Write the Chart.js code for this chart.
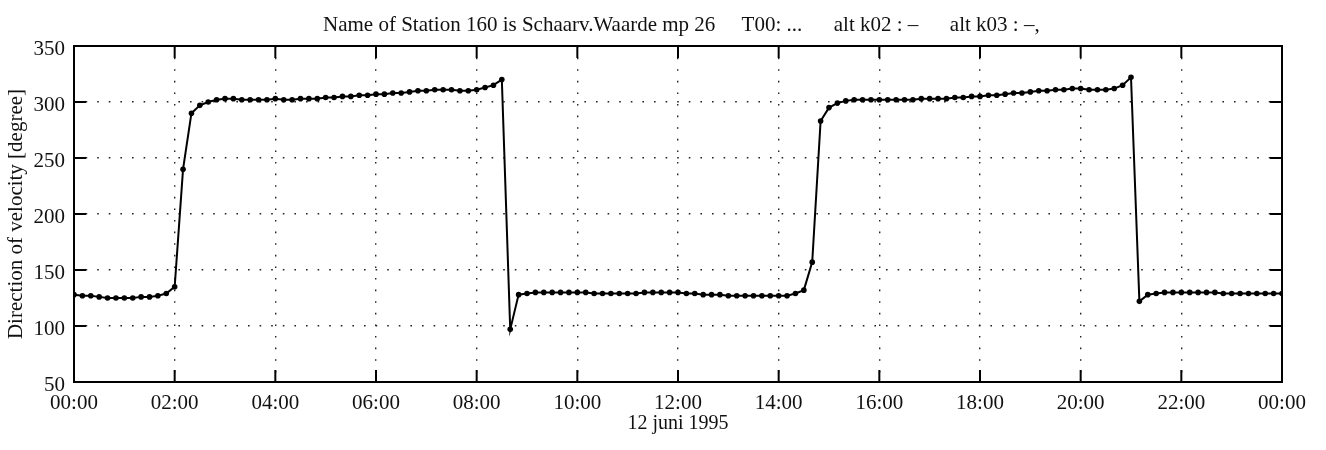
<!DOCTYPE html>
<html>
<head>
<meta charset="utf-8">
<script src="https://cdn.jsdelivr.net/npm/chart.js@4/dist/chart.umd.min.js"></script>
<style>
  html, body { margin: 0; padding: 0; background: #fff; }
  #wrap { width: 1326px; height: 450px; }
</style>
</head>
<body>
<div id="wrap"><canvas id="chart" width="1326" height="450"></canvas></div>
<script>
// Station 160, Schaarv.Waarde mp 26 — current direction, 12 juni 1995
const titleText = 'Name of Station 160 is Schaarv.Waarde mp 26     T00: ...      alt k02 : \u2013      alt k03 : \u2013,';
const xAxisTitle = '12 juni 1995';
const yAxisTitle = 'Direction of velocity [degree]';

// one sample every 10 minutes, 00:00 .. 24:00
const sampleStepMinutes = 10;
const direction = [
  128, 127, 127, 126, 125, 125, 125, 125, 126, 126, 127, 129,   // 00:00 - 01:50
  135, 240, 290, 297, 300, 302, 303, 303, 302, 302, 302, 302,   // 02:00 - 03:50
  303, 302, 302, 303, 303, 303, 304, 304, 305, 305, 306, 306,   // 04:00 - 05:50
  307, 307, 308, 308, 309, 310, 310, 311, 311, 311, 310, 310,   // 06:00 - 07:50
  311, 313, 315, 320,  97, 128, 129, 130, 130, 130, 130, 130,   // 08:00 - 09:50
  130, 130, 129, 129, 129, 129, 129, 129, 130, 130, 130, 130,   // 10:00 - 11:50
  130, 129, 129, 128, 128, 128, 127, 127, 127, 127, 127, 127,   // 12:00 - 13:50
  127, 127, 129, 132, 157, 283, 295, 299, 301, 302, 302, 302,   // 14:00 - 15:50
  302, 302, 302, 302, 302, 303, 303, 303, 303, 304, 304, 305,   // 16:00 - 17:50
  305, 306, 306, 307, 308, 308, 309, 310, 310, 311, 311, 312,   // 18:00 - 19:50
  312, 311, 311, 311, 312, 315, 322, 122, 128, 129, 130, 130,   // 20:00 - 21:50
  130, 130, 130, 130, 130, 129, 129, 129, 129, 129, 129, 129,   // 22:00 - 23:50
  129                                                           // 24:00
];

const xRangeMinutes = [0, 1440];
const xTickStepMinutes = 120;
const yRange = [50, 350];
const yTickStep = 50;

const points = direction.map((v, i) => ({ x: i * sampleStepMinutes, y: v }));

function clockLabel(minutes) {
  const m = Math.round(minutes) % 1440;
  const hh = String(Math.floor(m / 60)).padStart(2, '0');
  const mm = String(m % 60).padStart(2, '0');
  return hh + ':' + mm;
}

const SERIF = '"Liberation Serif", "Times New Roman", serif';

// solid frame round the plot plus short inward tick marks on all four sides
const frameTicks = {
  id: 'frameTicks',
  afterDatasetsDraw(chart) {
    const { ctx, chartArea: a, scales: { x, y } } = chart;
    ctx.save();
    ctx.strokeStyle = '#000';
    ctx.lineWidth = 2;
    ctx.strokeRect(a.left, a.top, a.right - a.left, a.bottom - a.top);
    const len = 12;
    ctx.beginPath();
    x.ticks.forEach(t => {
      const px = x.getPixelForValue(t.value);
      ctx.moveTo(px, a.bottom); ctx.lineTo(px, a.bottom - len);
      ctx.moveTo(px, a.top);    ctx.lineTo(px, a.top + len);
    });
    y.ticks.forEach(t => {
      const py = y.getPixelForValue(t.value);
      ctx.moveTo(a.left, py);  ctx.lineTo(a.left + len, py);
      ctx.moveTo(a.right, py); ctx.lineTo(a.right - len, py);
    });
    ctx.stroke();
    ctx.restore();
  }
};

// heading line above the plot
const heading = {
  id: 'heading',
  afterDraw(chart) {
    const { ctx } = chart;
    ctx.save();
    ctx.font = '21px ' + SERIF;
    ctx.fillStyle = '#111';
    ctx.textAlign = 'left';
    ctx.textBaseline = 'alphabetic';
    ctx.fillText(titleText, 323, 31);
    ctx.restore();
  }
};

new Chart(document.getElementById('chart'), {
  type: 'line',
  data: {
    datasets: [{
      data: points,
      borderColor: '#000',
      backgroundColor: '#000',
      borderWidth: 2,
      pointRadius: 2.8,
      pointBorderWidth: 0,
      pointBackgroundColor: '#000',
      tension: 0,
      fill: false
    }]
  },
  options: {
    responsive: false,
    animation: false,
    events: [],
    layout: { padding: { top: 46, right: 44, left: 0, bottom: 0 } },
    plugins: {
      legend: { display: false },
      title: { display: false },
      tooltip: { enabled: false }
    },
    scales: {
      x: {
        type: 'linear',
        min: xRangeMinutes[0],
        max: xRangeMinutes[1],
        afterFit(scale) { scale.height = 68; },
        afterBuildTicks(scale) {
          const ticks = [];
          for (let v = xRangeMinutes[0]; v <= xRangeMinutes[1]; v += xTickStepMinutes) ticks.push({ value: v });
          scale.ticks = ticks;
        },
        ticks: {
          autoSkip: false,
          maxRotation: 0,
          padding: 9,
          color: '#111',
          font: { family: SERIF, size: 21 },
          callback: v => clockLabel(v)
        },
        grid: { color: '#222', lineWidth: 1.4, drawTicks: false },
        border: { display: false, dash: [1.6, 10] },
        title: {
          display: true,
          text: xAxisTitle,
          color: '#111',
          font: { family: SERIF, size: 20 },
          padding: { top: 0, bottom: 14 }
        }
      },
      y: {
        min: yRange[0],
        max: yRange[1],
        afterFit(scale) { scale.width = 74; },
        ticks: {
          stepSize: yTickStep,
          padding: 9,
          labelOffset: 3,
          color: '#111',
          font: { family: SERIF, size: 21 }
        },
        grid: { color: '#222', lineWidth: 1.4, drawTicks: false },
        border: { display: false, dash: [1.6, 10] },
        title: {
          display: true,
          text: yAxisTitle,
          color: '#111',
          font: { family: SERIF, size: 21 },
          padding: { top: 4, bottom: 0 }
        }
      }
    }
  },
  plugins: [frameTicks, heading]
});
</script>
</body>
</html>
